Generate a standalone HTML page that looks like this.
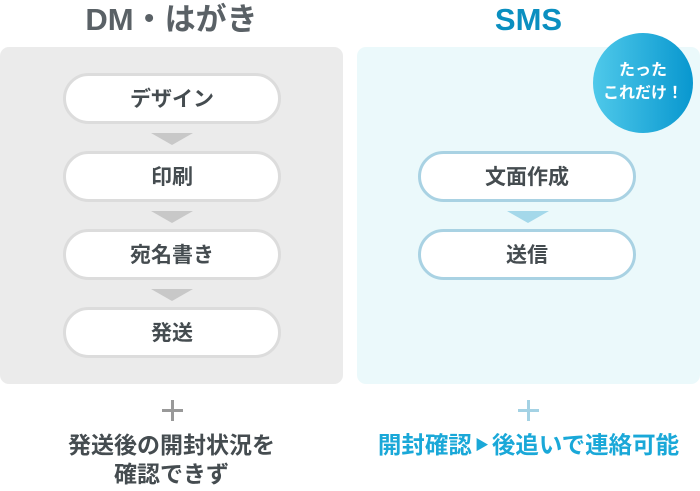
<!DOCTYPE html>
<html><head><meta charset="utf-8"><style>
body{margin:0;width:700px;height:491px;background:#fff;position:relative;overflow:hidden;font-family:"Liberation Sans","Noto Sans CJK JP",sans-serif;font-weight:bold}
.a{position:absolute}
.t{position:absolute;text-align:center;white-space:nowrap}
.pill{position:absolute;width:212px;height:45px;border:3px solid #dcdcdc;border-radius:26px;background:#fff;text-align:center;line-height:48px;font-size:21px;color:#454c50}
.pill.b{border-color:#a9d2e3}
.tri{position:absolute;width:0;height:0;border-left:21px solid transparent;border-right:21px solid transparent;border-top:12px solid #c8c8c8}
.tri.b{border-top-color:#a4d8ea}
</style></head><body>
<div class="t" style="left:0;width:343px;top:0;font-size:31px;color:#5a6166;line-height:40px">DM・はがき</div>
<div class="t" style="left:357px;width:343px;top:0;font-size:31px;color:#0a8fc0;line-height:40px">SMS</div>
<div class="a" style="left:0;top:47px;width:343px;height:337px;background:#ebebeb;border-radius:9px"></div>
<div class="a" style="left:357px;top:47px;width:343px;height:337px;background:#ebf9fb;border-radius:9px"></div>
<div class="pill" style="left:63px;top:73px">デザイン</div>
<div class="tri" style="left:151px;top:133px"></div>
<div class="pill" style="left:63px;top:151px">印刷</div>
<div class="tri" style="left:151px;top:211px"></div>
<div class="pill" style="left:63px;top:229px">宛名書き</div>
<div class="tri" style="left:151px;top:289px"></div>
<div class="pill" style="left:63px;top:307px">発送</div>
<div class="pill b" style="left:418px;top:151px">文面作成</div>
<div class="tri b" style="left:507px;top:211px"></div>
<div class="pill b" style="left:418px;top:229px">送信</div>
<div class="a" style="left:593px;top:33px;width:100px;height:100px;border-radius:50%;background:linear-gradient(90deg,#4fc9ea,#0897cf)"></div>
<div class="t" style="left:593px;width:100px;top:59px;font-size:16px;line-height:23px;color:#fff">たった<br>これだけ！</div>
<div class="a" style="left:162px;top:409px;width:21px;height:3px;background:#999"></div>
<div class="a" style="left:171px;top:400px;width:3px;height:21px;background:#999"></div>
<div class="a" style="left:518px;top:409px;width:21px;height:3px;background:#a4d2e4"></div>
<div class="a" style="left:527px;top:400px;width:3px;height:21px;background:#a4d2e4"></div>
<div class="t" style="left:0;width:343px;top:431px;font-size:23px;line-height:29px;color:#454c50">発送後の開封状況を<br>確認できず</div>
<div class="t" style="left:357px;width:343px;top:431px;font-size:23.5px;line-height:29px;color:#1aa8d8">開封確認<span style="font-size:14px;position:relative;top:-3px;margin:0 3px">▶</span>後追いで連絡可能</div>
</body></html>
